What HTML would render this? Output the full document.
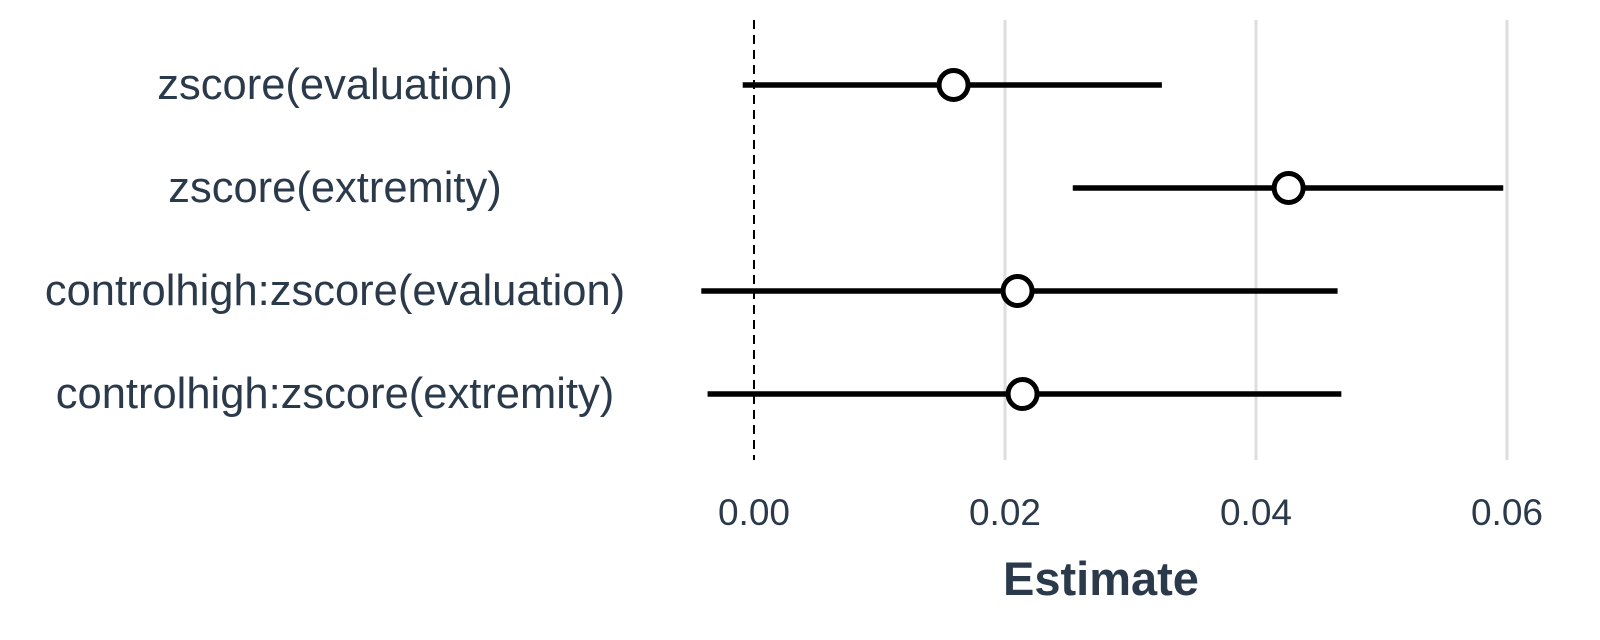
<!DOCTYPE html>
<html><head><meta charset="utf-8"><style>
body{margin:0;background:#fff}
svg{display:block;font-family:"Liberation Sans",Arial,sans-serif}
</style></head><body>
<svg id="chart" width="1600" height="640" viewBox="0 0 1600 640">
<g id="grid"></g>
<g id="marks"></g>
<g id="ylabels"></g>
<g id="xlabels"></g>
<text x="1101" y="595" text-anchor="middle" font-size="47" font-weight="bold" fill="#2b3a4a">Estimate</text>
</svg>
<script>
const terms=["zscore(evaluation)","zscore(extremity)","controlhigh:zscore(evaluation)","controlhigh:zscore(extremity)"];
const estimates=[0.0159,0.0426,0.0210,0.0214];
const lower=[-0.0009,0.0254,-0.0042,-0.0037];
const upper=[0.0325,0.0597,0.0465,0.0468];
const ticks=[0,0.02,0.04,0.06];
const tickLabels=["0.00","0.02","0.04","0.06"];
const NS="http://www.w3.org/2000/svg";
const x=v=>754+v*12550;
const y=i=>85+i*103;
function mk(tag,attrs,parent){const e=document.createElementNS(NS,tag);for(const k in attrs)e.setAttribute(k,attrs[k]);document.getElementById(parent).appendChild(e);return e;}
ticks.forEach((t,i)=>{
  if(t!==0){const g=mk("line",{x1:x(t),x2:x(t),y1:20,y2:460,stroke:"#dedede","stroke-width":3},"grid");
  
  }
  const l=mk("text",{x:x(t),y:525,"text-anchor":"middle","font-size":37,fill:"#2b3a4a"},"xlabels");
  l.textContent=tickLabels[i];
  
  
});
const z=mk("line",{x1:x(0),x2:x(0),y1:20,y2:460,stroke:"#000","stroke-width":2,"stroke-dasharray":"9,6"},"grid");


terms.forEach((t,i)=>{
  const ln=mk("line",{x1:x(lower[i]),x2:x(upper[i]),y1:y(i),y2:y(i),stroke:"#000","stroke-width":5.5},"marks");
  
  
  const c=mk("circle",{cx:x(estimates[i]),cy:y(i),r:14.5,fill:"#fff",stroke:"#000","stroke-width":5},"marks");
  
  
  const l=mk("text",{x:335,y:y(i)+14,"text-anchor":"middle","font-size":43.5,fill:"#2b3a4a"},"ylabels");
  l.textContent=t;
  
  
});
</script>
</body></html>
